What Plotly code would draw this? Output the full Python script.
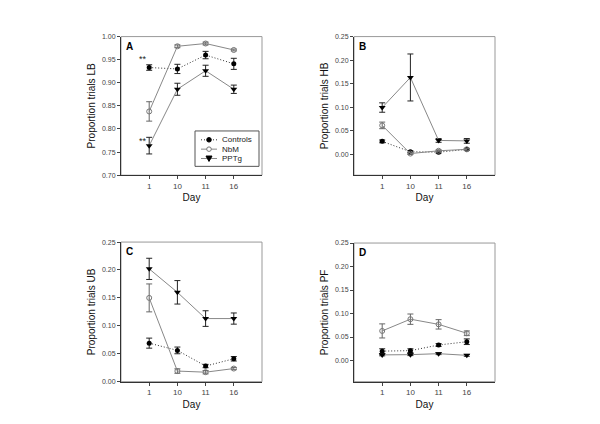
import plotly.graph_objects as go

days = ["1", "10", "11", "16"]
xpos = [1, 2, 3, 4]
series_names = ["Controls", "NbM", "PPTg"]

# Panel A: Proportion trials LB
A_ctrl = [0.933, 0.930, 0.960, 0.941]
A_ctrl_err = [0.006, 0.010, 0.008, 0.012]
A_nbm = [0.838, 0.979, 0.985, 0.971]
A_nbm_err = [0.021, 0.003, 0.003, 0.002]
A_pptg = [0.764, 0.886, 0.926, 0.886]
A_pptg_err = [0.018, 0.013, 0.012, 0.009]

# Panel B: Proportion trials HB
B_ctrl = [0.027, 0.005, 0.004, 0.010]
B_ctrl_err = [0.003, 0.002, 0.002, 0.002]
B_nbm = [0.061, 0.001, 0.007, 0.010]
B_nbm_err = [0.007, 0.002, 0.002, 0.002]
B_pptg = [0.099, 0.163, 0.029, 0.028]
B_pptg_err = [0.010, 0.050, 0.004, 0.005]

# Panel C: Proportion trials UB
C_ctrl = [0.069, 0.056, 0.028, 0.041]
C_ctrl_err = [0.009, 0.006, 0.003, 0.004]
C_nbm = [0.150, 0.019, 0.017, 0.0235]
C_nbm_err = [0.025, 0.004, 0.003, 0.002]
C_pptg = [0.202, 0.160, 0.113, 0.113]
C_pptg_err = [0.019, 0.021, 0.014, 0.010]

# Panel D: Proportion trials PF
D_ctrl = [0.020, 0.021, 0.033, 0.040]
D_ctrl_err = [0.005, 0.004, 0.003, 0.006]
D_nbm = [0.063, 0.088, 0.077, 0.058]
D_nbm_err = [0.015, 0.011, 0.010, 0.005]
D_pptg = [0.012, 0.0125, 0.0146, 0.011]
D_pptg_err = [0.002, 0.002, 0.002, 0.002]

panels = [
    ("A", "Proportion trials LB", (A_ctrl, A_ctrl_err), (A_nbm, A_nbm_err), (A_pptg, A_pptg_err),
     [0.70, 1.00], [0.70, 0.75, 0.80, 0.85, 0.90, 0.95, 1.00]),
    ("B", "Proportion trials HB", (B_ctrl, B_ctrl_err), (B_nbm, B_nbm_err), (B_pptg, B_pptg_err),
     [-0.045, 0.25], [0.00, 0.05, 0.10, 0.15, 0.20, 0.25]),
    ("C", "Proportion trials UB", (C_ctrl, C_ctrl_err), (C_nbm, C_nbm_err), (C_pptg, C_pptg_err),
     [0.0, 0.25], [0.00, 0.05, 0.10, 0.15, 0.20, 0.25]),
    ("D", "Proportion trials PF", (D_ctrl, D_ctrl_err), (D_nbm, D_nbm_err), (D_pptg, D_pptg_err),
     [-0.045, 0.25], [0.00, 0.05, 0.10, 0.15, 0.20, 0.25]),
]

# The page body has an 8px default margin, so the figure is sized to fit the
# remaining area and positions (given in window pixels) are offset.
OFF = 8
W, H = 600 - OFF, 424 - OFF
boxes = {
    "A": (121, 262, 33, 174),
    "B": (354, 495, 33, 174),
    "C": (121, 262, 242, 384),
    "D": (354, 495, 243, 384),
}


def px(x):
    return (x - OFF) / W


def py(y):
    return 1 - (y - OFF) / H


FONT = "Liberation Sans, Arial, sans-serif"
DOT = "1px,2px"
fig = go.Figure()
layout = dict(
    width=W, height=H, margin=dict(l=0, r=0, t=0, b=0),
    paper_bgcolor="white", plot_bgcolor="white",
    font=dict(family=FONT, color="#222"),
    showlegend=False,
)
annotations = []
shapes = []

for i, (letter, ytitle, ctrl, nbm, pptg, yrange, yticks) in enumerate(panels):
    n = "" if i == 0 else str(i + 1)
    xa, ya = "x" + n, "y" + n
    x0, x1, y0, y1 = boxes[letter]
    fig.add_trace(go.Scatter(
        x=xpos, y=ctrl[0], xaxis=xa, yaxis=ya, name=series_names[0],
        mode="lines+markers",
        line=dict(color="#333", width=1, dash=DOT),
        marker=dict(symbol="circle", size=5, color="black"),
        error_y=dict(type="data", array=ctrl[1], color="#222", thickness=1, width=3),
    ))
    fig.add_trace(go.Scatter(
        x=xpos, y=nbm[0], xaxis=xa, yaxis=ya, name=series_names[1],
        mode="lines+markers",
        line=dict(color="#888", width=1),
        marker=dict(symbol="circle-open", size=5, color="#777", line=dict(width=1)),
        error_y=dict(type="data", array=nbm[1], color="#666", thickness=1, width=3),
    ))
    fig.add_trace(go.Scatter(
        x=xpos, y=pptg[0], xaxis=xa, yaxis=ya, name=series_names[2],
        mode="lines+markers",
        line=dict(color="#888", width=1),
        marker=dict(symbol="triangle-down", size=6, color="black"),
        error_y=dict(type="data", array=pptg[1], color="#222", thickness=1, width=3),
    ))
    layout["xaxis" + n] = dict(
        domain=[px(x0), px(x1)], anchor=ya, range=[0, 5],
        tickmode="array", tickvals=xpos, ticktext=days,
        ticks="outside", ticklen=3, tickcolor="#444",
        showline=True, linecolor="#333", linewidth=1,
        showgrid=False, zeroline=False,
        tickfont=dict(size=8, color="#444", family=FONT),
        title=dict(text="Day", font=dict(size=10, color="#111", family=FONT), standoff=4),
    )
    layout["yaxis" + n] = dict(
        domain=[py(y1), py(y0)], anchor=xa, range=yrange,
        tickmode="array", tickvals=yticks, ticktext=["%.2f" % v for v in yticks],
        ticks="outside", ticklen=3, tickcolor="#444",
        showline=True, linecolor="#333", linewidth=1,
        showgrid=False, zeroline=False,
        tickfont=dict(size=7, color="#444", family=FONT),
        title=dict(text=ytitle, font=dict(size=10, color="#111", family=FONT), standoff=4),
    )
    shapes.append(dict(type="rect", xref=xa + " domain", yref=ya + " domain",
                       x0=0, x1=1, y0=0, y1=1, line=dict(color="#999", width=1), layer="below"))
    annotations.append(dict(text="<b>%s</b>" % letter, xref=xa + " domain", yref=ya + " domain",
                            x=0.02, y=0.985, xanchor="left", yanchor="top", showarrow=False,
                            font=dict(size=10, color="black", family=FONT)))

annotations.append(dict(text="**", x=0.78, y=0.951, xref="x", yref="y", showarrow=False,
                        font=dict(size=9, color="#222", family=FONT)))
annotations.append(dict(text="**", x=0.78, y=0.774, xref="x", yref="y", showarrow=False,
                        font=dict(size=9, color="#222", family=FONT)))

# Manual compact legend inside panel A
lx0, lx1, ly0, ly1 = 195, 259, 129, 165
shapes.append(dict(type="rect", xref="paper", yref="paper",
                   x0=px(lx0), x1=px(lx1), y0=py(ly1), y1=py(ly0),
                   line=dict(color="#555", width=1), fillcolor="white"))
rows = [138, 147.5, 157]
styles = [("#333", DOT), ("#888", "solid"), ("#888", "solid")]
for name, yy, (col, dash) in zip(series_names, rows, styles):
    shapes.append(dict(type="line", xref="paper", yref="paper",
                       x0=px(201), x1=px(217), y0=py(yy), y1=py(yy),
                       line=dict(color=col, width=1, dash=dash)))
    annotations.append(dict(text=name, xref="paper", yref="paper", x=px(220), y=py(yy),
                            xanchor="left", yanchor="middle", showarrow=False,
                            font=dict(size=8, color="#222", family=FONT)))
mx = 209
shapes.append(dict(type="circle", xref="paper", yref="paper",
                   x0=px(mx - 2.3), x1=px(mx + 2.3), y0=py(rows[0] + 2.3), y1=py(rows[0] - 2.3),
                   line=dict(color="black", width=1), fillcolor="black"))
shapes.append(dict(type="circle", xref="paper", yref="paper",
                   x0=px(mx - 2.3), x1=px(mx + 2.3), y0=py(rows[1] + 2.3), y1=py(rows[1] - 2.3),
                   line=dict(color="#777", width=1), fillcolor="white"))
ty = rows[2]
shapes.append(dict(type="path", xref="paper", yref="paper",
                   path="M %f %f L %f %f L %f %f Z" % (px(mx - 3), py(ty - 2.5), px(mx + 3), py(ty - 2.5),
                                                      px(mx), py(ty + 3)),
                   line=dict(color="black", width=1), fillcolor="black"))

layout["annotations"] = annotations
layout["shapes"] = shapes
fig.update_layout(**layout)
fig.write_html("out.html")
